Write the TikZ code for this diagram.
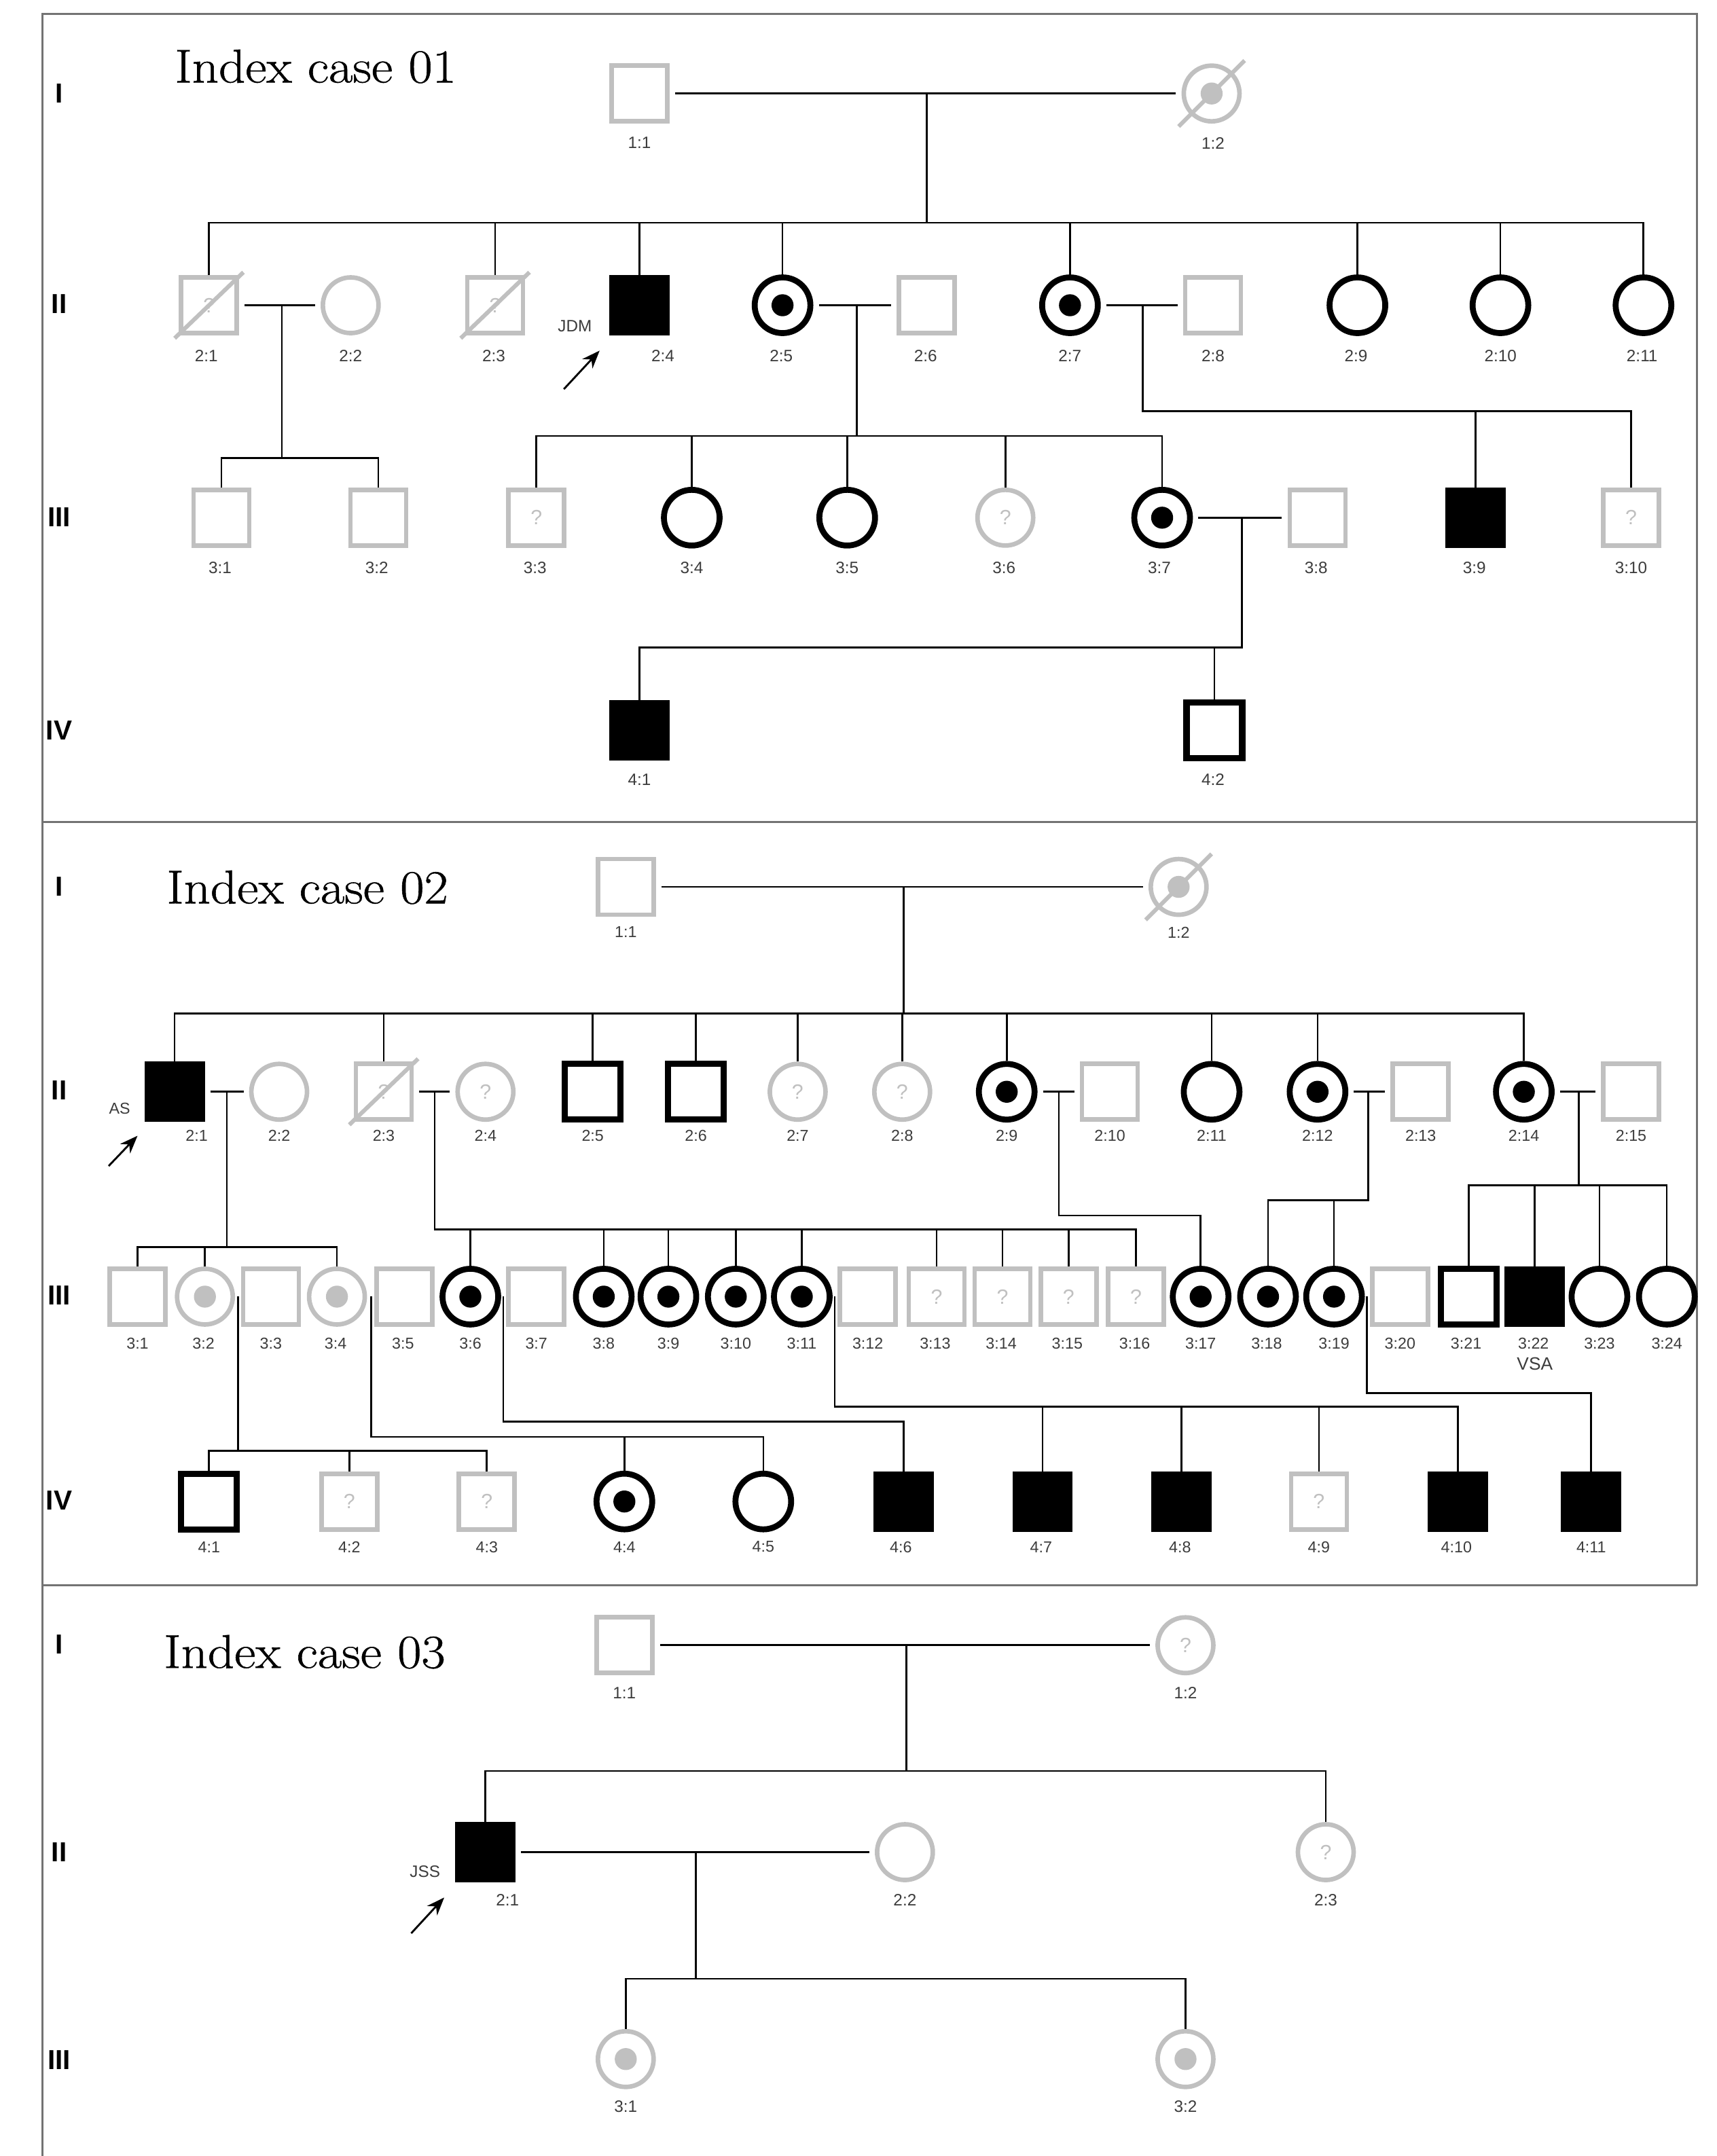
\documentclass[tikz,border=0pt]{standalone}
\usepackage{fontspec}
\setsansfont{Liberation Sans}
\newfontfamily\ttlfont[FakeStretch=1.1,FakeBold=0.8]{Latin Modern Roman}
\usetikzlibrary{arrows.meta}
\definecolor{lg}{RGB}{192,192,192}
\definecolor{lblc}{RGB}{60,60,60}
\begin{document}
\begin{tikzpicture}[x=1pt,y=-1pt,
 sym/.style={minimum size=40.5pt, inner sep=0pt, outer sep=auto, text=lg, font=\sffamily\fontsize{15}{15}\selectfont},
 gsq/.style={sym, rectangle, draw=lg, line width=3.3pt},
 bsq/.style={sym, rectangle, draw=black, fill=black, line width=3.3pt},
 osq/.style={sym, rectangle, draw=black, line width=4.5pt},
 gci/.style={sym, circle, draw=lg, line width=3.3pt},
 bci/.style={sym, circle, draw=black, line width=4.3pt},
 cci/.style={bci, path picture={\fill[black] (path picture bounding box.center) circle (8pt);}},
 gdot/.style={gci, path picture={\fill[lg] (path picture bounding box.center) circle (8pt);}},
 lbl/.style={font=\sffamily\fontsize{12}{12}\selectfont, text=lblc, inner sep=0pt},
 lbs/.style={font=\sffamily\fontsize{11.5}{12}\selectfont, text=lblc, inner sep=0pt},
 gen/.style={font=\sffamily\bfseries\fontsize{20}{20}\selectfont, inner sep=0pt},
 ttl/.style={font=\ttlfont\fontsize{34.5}{40}\selectfont, anchor=base west, inner sep=0pt},
 ln/.style={line width=1.3pt, black},
 mar/.style={ln, shorten <=4pt, shorten >=4pt},
 dec/.style={draw=lg, line width=3pt},
 frm/.style={draw=black!55, line width=1.5pt},
 prb/.style={line width=1.4pt, -{Stealth[length=13pt,width=10pt]}}
]
\useasboundingbox (0,0) rectangle (1248,1568);

% ---------------- frame ----------------
\draw[frm] (31,1568) -- (31,10) -- (1234,10) -- (1234,1153);
\draw[frm] (31,598) -- (1234,598);
\draw[frm] (31,1153) -- (1234,1153);

% ---------------- titles and generations ----------------
\node[ttl] (T1) at (127,60) {Index case 01};
\node[ttl] (T2) at (121,657) {Index case 02};
\node[ttl] (T3) at (119,1213) {Index case 03};

\node[gen] (G1a) at (43,68) {I};
\node[gen] (G1b) at (43,221) {II};
\node[gen] (G1c) at (43,376) {III};
\node[gen] (G1d) at (43,531) {IV};
\node[gen] (G2a) at (43,645) {I};
\node[gen] (G2b) at (43,793) {II};
\node[gen] (G2c) at (43,942) {III};
\node[gen] (G2d) at (43,1091) {IV};
\node[gen] (G3a) at (43,1196) {I};
\node[gen] (G3b) at (43,1347) {II};
\node[gen] (G3c) at (43,1498) {III};

% =============== PANEL 1 ===============
\node[gsq] (A11) at (465,68) {};
\node[gdot] (A12) at (881,68) {};
\draw[dec] ([shift={(-24,24)}]A12.center) -- ([shift={(24,-24)}]A12.center);

\node[gsq] (A21) at (152,222) {?};
\draw[dec] ([shift={(-25,24)}]A21.center) -- ([shift={(25,-24)}]A21.center);
\node[gci] (A22) at (255,222) {};
\node[gsq] (A23) at (360,222) {?};
\draw[dec] ([shift={(-25,24)}]A23.center) -- ([shift={(25,-24)}]A23.center);
\node[bsq] (A24) at (465,222) {};
\node[cci] (A25) at (569,222) {};
\node[gsq] (A26) at (674,222) {};
\node[cci] (A27) at (778,222) {};
\node[gsq] (A28) at (882,222) {};
\node[bci] (A29) at (987,222) {};
\node[bci] (A210) at (1091,222) {};
\node[bci] (A211) at (1195,222) {};

\node[gsq] (A31) at (161,376.5) {};
\node[gsq] (A32) at (275,376.5) {};
\node[gsq] (A33) at (390,376.5) {?};
\node[bci] (A34) at (503,376.5) {};
\node[bci] (A35) at (616,376.5) {};
\node[gci] (A36) at (731,376.5) {?};
\node[cci] (A37) at (845,376.5) {};
\node[gsq] (A38) at (958,376.5) {};
\node[bsq] (A39) at (1073,376.5) {};
\node[gsq] (A310) at (1186,376.5) {?};

\node[bsq] (A41) at (465,531) {};
\node[osq] (A42) at (883,531) {};

% connectors panel 1
\draw[mar] (A11.east) -- (A12.west);
\coordinate (A1m) at (674,68);
\coordinate (A1s) at (674,162);
\draw[ln] (A1m) -- (A1s);
\draw[ln] (A21.north) -- (A21.north |- A1s) -- (A211.north |- A1s) -- (A211.north);
\foreach \n in {A23,A24,A25,A27,A29,A210} \draw[ln] (\n.north) -- (\n.north |- A1s);

\draw[mar] (A21.east) -- (A22.west);
\coordinate (A2m1) at (205,222);
\coordinate (A2s1) at (205,333);
\draw[ln] (A2m1) -- (A2s1);
\draw[ln] (A31.north) -- (A31.north |- A2s1) -- (A32.north |- A2s1) -- (A32.north);

\draw[mar] (A25.east) -- (A26.west);
\coordinate (A2m2) at (623,222);
\coordinate (A2s2) at (623,317);
\draw[ln] (A2m2) -- (A2s2);
\draw[ln] (A33.north) -- (A33.north |- A2s2) -- (A37.north |- A2s2) -- (A37.north);
\foreach \n in {A34,A35,A36} \draw[ln] (\n.north) -- (\n.north |- A2s2);

\draw[mar] (A27.east) -- (A28.west);
\coordinate (A2m3) at (831,222);
\coordinate (A2s3) at (831,299);
\draw[ln] (A2m3) -- (A2s3) -- (A310.north |- A2s3) -- (A310.north);
\draw[ln] (A39.north) -- (A39.north |- A2s3);

\draw[mar] (A37.east) -- (A38.west);
\coordinate (A3m) at (903,377);
\coordinate (A3s) at (903,471);
\draw[ln] (A3m) -- (A3s) -- (A41.north |- A3s) -- (A41.north);
\draw[ln] (A42.north) -- (A42.north |- A3s);

% labels panel 1
\node[lbl] (lA11) at (465,104) {1:1};
\node[lbl] (lA12) at (882,104) {1:2};
\node[lbl] (lA21) at (150,259) {2:1};
\node[lbl] (lA22) at (255,259) {2:2};
\node[lbl] (lA23) at (359,259) {2:3};
\node[lbl] (lA24) at (482,259) {2:4};
\node[lbl] (lA25) at (568,259) {2:5};
\node[lbl] (lA26) at (673,259) {2:6};
\node[lbl] (lA27) at (778,259) {2:7};
\node[lbl] (lA28) at (882,259) {2:8};
\node[lbl] (lA29) at (986,259) {2:9};
\node[lbl] (lA210) at (1091,259) {2:10};
\node[lbl] (lA211) at (1194,259) {2:11};
\node[lbl] (lA31) at (160,413) {3:1};
\node[lbl] (lA32) at (274,413) {3:2};
\node[lbl] (lA33) at (389,413) {3:3};
\node[lbl] (lA34) at (503,413) {3:4};
\node[lbl] (lA35) at (616,413) {3:5};
\node[lbl] (lA36) at (730,413) {3:6};
\node[lbl] (lA37) at (843,413) {3:7};
\node[lbl] (lA38) at (957,413) {3:8};
\node[lbl] (lA39) at (1072,413) {3:9};
\node[lbl] (lA310) at (1186,413) {3:10};
\node[lbl] (lA41) at (465,567) {4:1};
\node[lbl] (lA42) at (882,567) {4:2};

\node[lbl] (JDM) at (418,237) {JDM};
\coordinate (JDMa) at (410,283);
\coordinate (JDMb) at (436,255);
\draw[prb] (JDMa) -- (JDMb);

% =============== PANEL 2 ===============
\node[gsq] (B11) at (455,645) {};
\node[gdot] (B12) at (857,645) {};
\draw[dec] ([shift={(-24,24)}]B12.center) -- ([shift={(24,-24)}]B12.center);

\node[bsq] (B21) at (127,794) {};
\node[gci] (B22) at (203,794) {};
\node[gsq] (B23) at (279,794) {?};
\draw[dec] ([shift={(-25,24)}]B23.center) -- ([shift={(25,-24)}]B23.center);
\node[gci] (B24) at (353,794) {?};
\node[osq] (B25) at (431,794) {};
\node[osq] (B26) at (506,794) {};
\node[gci] (B27) at (580,794) {?};
\node[gci] (B28) at (656,794) {?};
\node[cci] (B29) at (732,794) {};
\node[gsq] (B210) at (807,794) {};
\node[bci] (B211) at (881,794) {};
\node[cci] (B212) at (958,794) {};
\node[gsq] (B213) at (1033,794) {};
\node[cci] (B214) at (1108,794) {};
\node[gsq] (B215) at (1186,794) {};

\node[gsq] (B31) at (100,943) {};
\node[gdot] (B32) at (149,943) {};
\node[gsq] (B33) at (197,943) {};
\node[gdot] (B34) at (245,943) {};
\node[gsq] (B35) at (294,943) {};
\node[cci] (B36) at (342,943) {};
\node[gsq] (B37) at (390,943) {};
\node[cci] (B38) at (439,943) {};
\node[cci] (B39) at (486,943) {};
\node[cci] (B310) at (535,943) {};
\node[cci] (B311) at (583,943) {};
\node[gsq] (B312) at (631,943) {};
\node[gsq] (B313) at (681,943) {?};
\node[gsq] (B314) at (729,943) {?};
\node[gsq] (B315) at (777,943) {?};
\node[gsq] (B316) at (826,943) {?};
\node[cci] (B317) at (873,943) {};
\node[cci] (B318) at (922,943) {};
\node[cci] (B319) at (970,943) {};
\node[gsq] (B320) at (1018,943) {};
\node[osq] (B321) at (1068,943) {};
\node[bsq] (B322) at (1116,943) {};
\node[bci] (B323) at (1163,943) {};
\node[bci] (B324) at (1212,943) {};

\node[osq] (B41) at (152,1092) {};
\node[gsq] (B42) at (254,1092) {?};
\node[gsq] (B43) at (354,1092) {?};
\node[cci] (B44) at (454,1092) {};
\node[bci] (B45) at (555,1092) {};
\node[bsq] (B46) at (657,1092) {};
\node[bsq] (B47) at (758,1092) {};
\node[bsq] (B48) at (859,1092) {};
\node[gsq] (B49) at (959,1092) {?};
\node[bsq] (B410) at (1060,1092) {};
\node[bsq] (B411) at (1157,1092) {};

% connectors panel 2
\draw[mar] (B11.east) -- (B12.west);
\coordinate (B1m) at (657,645);
\coordinate (B1s) at (657,737);
\draw[ln] (B1m) -- (B1s);
\draw[ln] (B21.north) -- (B21.north |- B1s) -- (B214.north |- B1s) -- (B214.north);
\foreach \n in {B23,B25,B26,B27,B28,B29,B211,B212} \draw[ln] (\n.north) -- (\n.north |- B1s);

\draw[mar] (B21.east) -- (B22.west);
\coordinate (B2m1) at (165,794);
\coordinate (B2s1) at (165,907);
\draw[ln] (B2m1) -- (B2s1);
\draw[ln] (B31.north) -- (B31.north |- B2s1) -- (B34.north |- B2s1) -- (B34.north);
\draw[ln] (B32.north) -- (B32.north |- B2s1);

\draw[mar] (B23.east) -- (B24.west);
\coordinate (B2m2) at (316,794);
\coordinate (B2s2) at (316,894);
\draw[ln] (B2m2) -- (B2s2) -- (B316.north |- B2s2) -- (B316.north);
\foreach \n in {B36,B38,B39,B310,B311,B313,B314,B315} \draw[ln] (\n.north) -- (\n.north |- B2s2);

\draw[mar] (B29.east) -- (B210.west);
\coordinate (B2m3) at (770,794);
\coordinate (B2s3) at (770,884);
\draw[ln] (B2m3) -- (B2s3) -- (B317.north |- B2s3) -- (B317.north);

\draw[mar] (B212.east) -- (B213.west);
\coordinate (B2m4) at (995,794);
\coordinate (B2s4) at (995,873);
\draw[ln] (B2m4) -- (B2s4) -- (B318.north |- B2s4) -- (B318.north);
\draw[ln] (B319.north) -- (B319.north |- B2s4);

\draw[mar] (B214.east) -- (B215.west);
\coordinate (B2m5) at (1148,794);
\coordinate (B2s5) at (1148,862);
\draw[ln] (B2m5) -- (B2s5);
\draw[ln] (B321.north) -- (B321.north |- B2s5) -- (B324.north |- B2s5) -- (B324.north);
\foreach \n in {B322,B323} \draw[ln] (\n.north) -- (\n.north |- B2s5);

\coordinate (B3m1) at (173,943);
\coordinate (B3s1) at (173,1055);
\draw[ln] (B3m1) -- (B3s1);
\draw[ln] (B41.north) -- (B41.north |- B3s1) -- (B43.north |- B3s1) -- (B43.north);
\draw[ln] (B42.north) -- (B42.north |- B3s1);

\coordinate (B3m2) at (270,943);
\coordinate (B3s2) at (270,1045);
\draw[ln] (B3m2) -- (B3s2) -- (B45.north |- B3s2) -- (B45.north);
\draw[ln] (B44.north) -- (B44.north |- B3s2);

\coordinate (B3m3) at (366,943);
\coordinate (B3s3) at (366,1034);
\draw[ln] (B3m3) -- (B3s3) -- (B46.north |- B3s3) -- (B46.north);

\coordinate (B3m4) at (607,943);
\coordinate (B3s4) at (607,1023);
\draw[ln] (B3m4) -- (B3s4) -- (B410.north |- B3s4) -- (B410.north);
\foreach \n in {B47,B48,B49} \draw[ln] (\n.north) -- (\n.north |- B3s4);

\coordinate (B3m5) at (994,943);
\coordinate (B3s5) at (994,1013);
\draw[ln] (B3m5) -- (B3s5) -- (B411.north |- B3s5) -- (B411.north);

% labels panel 2
\node[lbs] (lB11) at (455,678) {1:1};
\node[lbs] (lB12) at (857,678) {1:2};
\node[lbs] (lB21) at (143,826) {2:1};
\node[lbs] (lB22) at (203,826) {2:2};
\node[lbs] (lB23) at (279,826) {2:3};
\node[lbs] (lB24) at (353,826) {2:4};
\node[lbs] (lB25) at (431,826) {2:5};
\node[lbs] (lB26) at (506,826) {2:6};
\node[lbs] (lB27) at (580,826) {2:7};
\node[lbs] (lB28) at (656,826) {2:8};
\node[lbs] (lB29) at (732,826) {2:9};
\node[lbs] (lB210) at (807,826) {2:10};
\node[lbs] (lB211) at (881,826) {2:11};
\node[lbs] (lB212) at (958,826) {2:12};
\node[lbs] (lB213) at (1033,826) {2:13};
\node[lbs] (lB214) at (1108,826) {2:14};
\node[lbs] (lB215) at (1186,826) {2:15};
\node[lbs] (lB31) at (100,977) {3:1};
\node[lbs] (lB32) at (148,977) {3:2};
\node[lbs] (lB33) at (197,977) {3:3};
\node[lbs] (lB34) at (244,977) {3:4};
\node[lbs] (lB35) at (293,977) {3:5};
\node[lbs] (lB36) at (342,977) {3:6};
\node[lbs] (lB37) at (390,977) {3:7};
\node[lbs] (lB38) at (439,977) {3:8};
\node[lbs] (lB39) at (486,977) {3:9};
\node[lbs] (lB310) at (535,977) {3:10};
\node[lbs] (lB311) at (583,977) {3:11};
\node[lbs] (lB312) at (631,977) {3:12};
\node[lbs] (lB313) at (680,977) {3:13};
\node[lbs] (lB314) at (728,977) {3:14};
\node[lbs] (lB315) at (776,977) {3:15};
\node[lbs] (lB316) at (825,977) {3:16};
\node[lbs] (lB317) at (873,977) {3:17};
\node[lbs] (lB318) at (921,977) {3:18};
\node[lbs] (lB319) at (970,977) {3:19};
\node[lbs] (lB320) at (1018,977) {3:20};
\node[lbs] (lB321) at (1066,977) {3:21};
\node[lbs] (lB322) at (1115,977) {3:22};
\node[lbs] (lB323) at (1163,977) {3:23};
\node[lbs] (lB324) at (1212,977) {3:24};
\node[font=\sffamily\fontsize{13}{13}\selectfont, text=lblc, inner sep=0pt] (VSA) at (1116,992) {VSA};
\node[lbs] (lB41) at (152,1125) {4:1};
\node[lbs] (lB42) at (254,1125) {4:2};
\node[lbs] (lB43) at (354,1125) {4:3};
\node[lbs] (lB44) at (454,1125) {4:4};
\node[lbs] (lB45) at (555,1125) {4:5};
\node[lbs] (lB46) at (655,1125) {4:6};
\node[lbs] (lB47) at (757,1125) {4:7};
\node[lbs] (lB48) at (858,1125) {4:8};
\node[lbs] (lB49) at (959,1125) {4:9};
\node[lbs] (lB410) at (1059,1125) {4:10};
\node[lbs] (lB411) at (1157,1125) {4:11};

\node[lbs] (AS) at (87,806) {AS};
\coordinate (ASa) at (79,848);
\coordinate (ASb) at (100,826);
\draw[prb] (ASa) -- (ASb);

% =============== PANEL 3 ===============
\node[gsq] (C11) at (454,1196.5) {};
\node[gci] (C12) at (862,1196.5) {?};
\node[bsq] (C21) at (353,1347) {};
\node[gci] (C22) at (658,1347) {};
\node[gci] (C23) at (964,1347) {?};
\node[gdot] (C31) at (455,1497.5) {};
\node[gdot] (C32) at (862,1497.5) {};

\draw[mar] (C11.east) -- (C12.west);
\coordinate (C1m) at (659,1197);
\coordinate (C1s) at (659,1288);
\draw[ln] (C1m) -- (C1s);
\draw[ln] (C21.north) -- (C21.north |- C1s) -- (C23.north |- C1s) -- (C23.north);

\draw[mar] (C21.east) -- (C22.west);
\coordinate (C2m) at (506,1347);
\coordinate (C2s) at (506,1439);
\draw[ln] (C2m) -- (C2s);
\draw[ln] (C31.north) -- (C31.north |- C2s) -- (C32.north |- C2s) -- (C32.north);

\node[lbl] (lC11) at (454,1231) {1:1};
\node[lbl] (lC12) at (862,1231) {1:2};
\node[lbl] (lC21) at (369,1382) {2:1};
\node[lbl] (lC22) at (658,1382) {2:2};
\node[lbl] (lC23) at (964,1382) {2:3};
\node[lbl] (lC31) at (455,1532) {3:1};
\node[lbl] (lC32) at (862,1532) {3:2};

\node[lbl] (JSS) at (309,1361) {JSS};
\coordinate (JSSa) at (299,1406);
\coordinate (JSSb) at (323,1380);
\draw[prb] (JSSa) -- (JSSb);
\end{tikzpicture}
\end{document}
